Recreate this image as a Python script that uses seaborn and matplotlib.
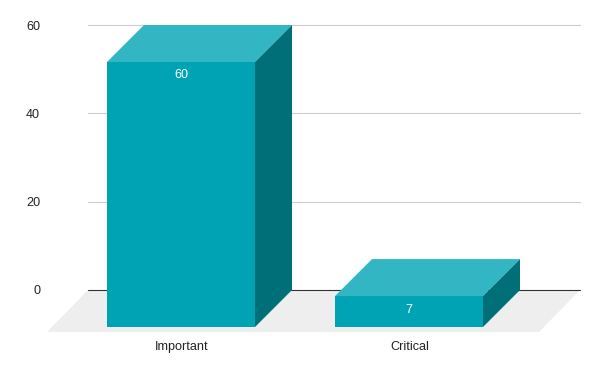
import matplotlib
matplotlib.use('Agg')
import matplotlib.pyplot as plt
from matplotlib.patches import Polygon
from matplotlib.transforms import ScaledTranslation
import seaborn as sns

# Chart data
categories = ['Important', 'Critical']
values = [60, 7]
y_ticks = [0, 20, 40, 60]

# Colours of the three faces
front_color = '#00a3b4'
top_color = '#33b6c4'
side_color = '#006f78'
floor_color = '#eeeeee'


def main():
    sns.set_theme(style='white')
    plt.rcParams['font.family'] = ['Liberation Sans', 'DejaVu Sans']

    fig = plt.figure(figsize=(6, 3.71), dpi=100)
    # back plane of the box: x 88..580 px, y 25..290 px
    ax = fig.add_axes([88 / 600, 81 / 371, 492 / 600, 265 / 371])

    sns.barplot(x=categories, y=values, color=front_color, saturation=1,
                width=0.649, ax=ax, zorder=3)
    ax.set_xlim(-0.5702, 1.5877)
    ax.set_ylim(0, 60)

    depth = 0.37  # inches (37 px) between the back plane and the front face
    shift = ScaledTranslation(-depth, -depth, fig.dpi_scale_trans)

    def to_front(x, y, px=37, py=37):
        d = ax.transData.transform((x, y))
        return ax.transData.inverted().transform((d[0] - px, d[1] - py))

    # floor under the bars
    x_lo, x_hi = ax.get_xlim()
    floor = [(x_lo, 0), (x_hi, 0), tuple(to_front(x_hi, 0, 41, 42)),
             tuple(to_front(x_lo, 0, 41, 42))]
    ax.add_patch(Polygon(floor, closed=True, facecolor=floor_color,
                         edgecolor='none', zorder=0, clip_on=False))

    # grid
    for t in y_ticks[1:]:
        ax.axhline(t, color='#cccccc', lw=0.8, zorder=1, clip_on=False)
    ax.axhline(0, color='#333333', lw=0.8, zorder=1.5, clip_on=False)

    # move front faces forward and add top / side faces
    for bar, val in zip(ax.patches[:len(values)], values):
        x0 = bar.get_x()
        x1 = x0 + bar.get_width()
        bar.set_transform(ax.transData + shift)
        bar.set_clip_on(False)
        bar.set_edgecolor('none')

        top = [tuple(to_front(x0, val)), tuple(to_front(x1, val)), (x1, val), (x0, val)]
        ax.add_patch(Polygon(top, closed=True, facecolor=top_color,
                             edgecolor='none', zorder=4, clip_on=False))
        side = [tuple(to_front(x1, 0)), tuple(to_front(x1, val)), (x1, val), (x1, 0)]
        ax.add_patch(Polygon(side, closed=True, facecolor=side_color,
                             edgecolor='none', zorder=4, clip_on=False))

        ax.text((x0 + x1) / 2, val, str(val), color='white', fontsize=9.1,
                ha='center', va='center', zorder=5,
                transform=ax.transData + ScaledTranslation(-depth, -depth - 0.135, fig.dpi_scale_trans))

    for s in ax.spines.values():
        s.set_visible(False)
    ax.set_yticks(y_ticks)
    ax.set_yticklabels([str(t) for t in y_ticks])
    ax.tick_params(axis='y', length=0, pad=34.5, labelsize=9.1, labelcolor='#222222')
    ax.tick_params(axis='x', length=0, pad=36.5, labelsize=9.1, labelcolor='#222222')
    for lbl in ax.get_xticklabels():
        lbl.set_transform(lbl.get_transform() + ScaledTranslation(-depth + 0.01, 0, fig.dpi_scale_trans))
    ax.set_xlabel('')
    ax.set_ylabel('')

    fig.savefig('out.png', dpi=100)


if __name__ == '__main__':
    main()
